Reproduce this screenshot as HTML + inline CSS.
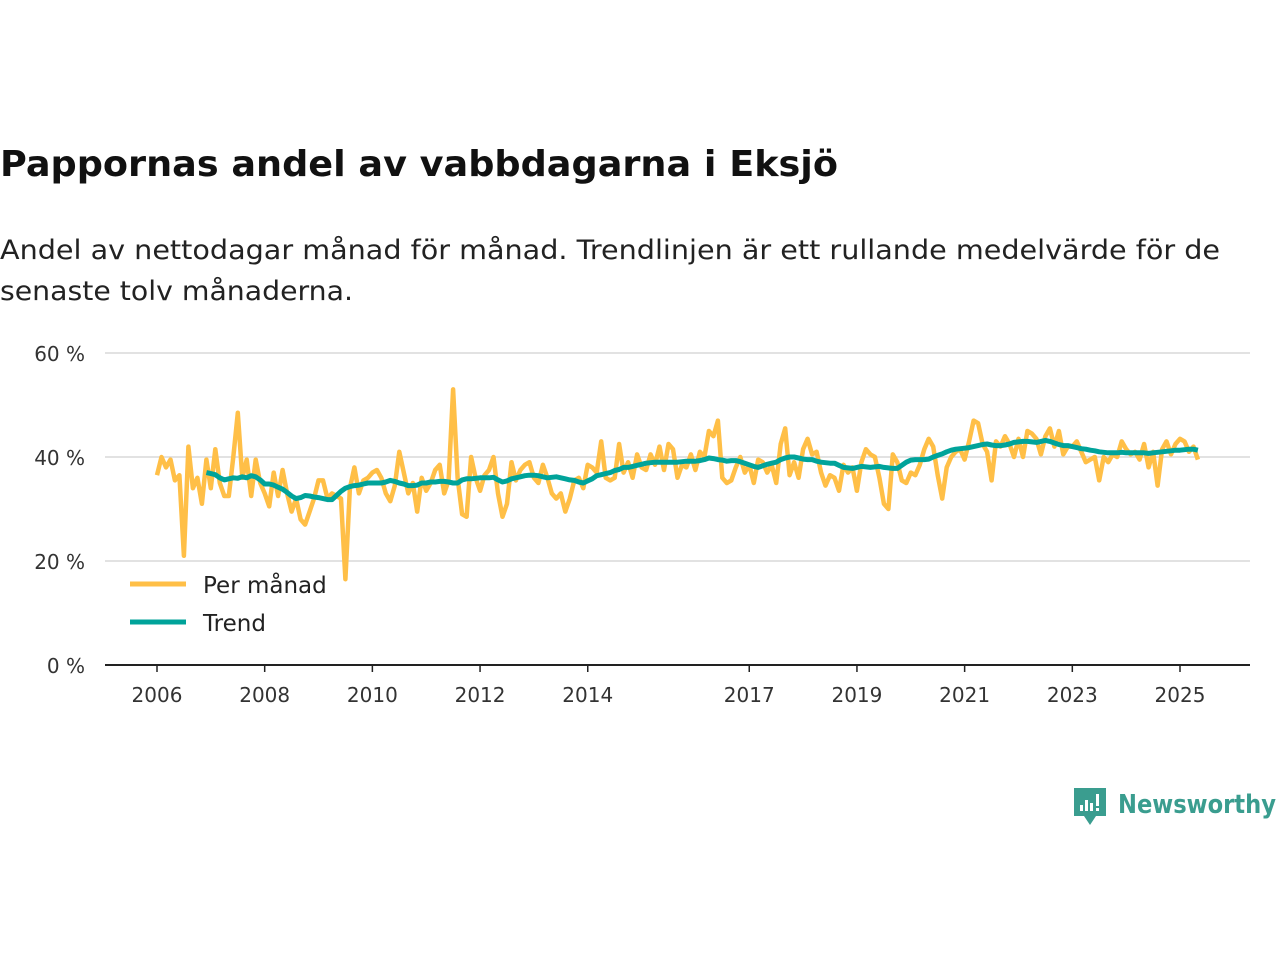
<!DOCTYPE html>
<html><head><meta charset="utf-8"><style>
body{margin:0;background:#fff;width:1280px;height:960px;overflow:hidden;font-family:"DejaVu Sans","Liberation Sans",sans-serif;}
</style></head><body>
<svg width="1280" height="960" font-family="DejaVu Sans, Liberation Sans, sans-serif">
<text x="0" y="176" font-size="36" font-weight="bold" fill="#111" textLength="838" lengthAdjust="spacingAndGlyphs">Pappornas andel av vabbdagarna i Eksjö</text>
<text x="0" y="259" font-size="27" fill="#222" textLength="1220" lengthAdjust="spacingAndGlyphs">Andel av nettodagar månad för månad. Trendlinjen är ett rullande medelvärde för de</text>
<text x="0" y="300" font-size="27" fill="#222" textLength="353" lengthAdjust="spacingAndGlyphs">senaste tolv månaderna.</text>
<g id="grid"></g>
<g id="xaxis"></g>
<g id="series"></g>
<g>
<line x1="130" y1="584" x2="186" y2="584" stroke="#ffbf47" stroke-width="5"/>
<text x="203" y="593" font-size="23" fill="#222">Per månad</text>
<line x1="130" y1="622" x2="186" y2="622" stroke="#00a39a" stroke-width="5"/>
<text x="203" y="631" font-size="23" fill="#222">Trend</text>
</g>
<g>
<path d="M1074 788 h32 v28 h-10 l-6 9 l-6 -9 h-10 z" fill="#3a9d8f"/>
<rect x="1080" y="805" width="3" height="6" fill="#fff"/><rect x="1085" y="800" width="3" height="11" fill="#fff"/><rect x="1090" y="803" width="3" height="8" fill="#fff"/><rect x="1096" y="794" width="3" height="12" fill="#fff"/><rect x="1096" y="808" width="3" height="3" fill="#fff"/>
<text x="1118" y="813" font-size="26" font-weight="bold" fill="#3a9d8f" textLength="158" lengthAdjust="spacingAndGlyphs">Newsworthy</text>
</g>
</svg>
<script>
const yTicks=[0,20,40,60];
const yTickLabels=["0 %","20 %","40 %","60 %"];
const xTickYears=[2006,2008,2010,2012,2014,2017,2019,2021,2023,2025];
const monthly=[
36.5,40,38,39.5,35.5,36.5,21,42,34,36,31,39.5,
34,41.5,35,32.5,32.5,40,48.5,36,39.5,32.5,39.5,35,
33,30.5,37,32.5,37.5,33,29.5,32,28,27,29.5,32,
35.5,35.5,32,33,32.5,32,16.5,34,38,33,35.5,36,
37,37.5,36,33,31.5,34.5,41,37,33,35,29.5,36,
33.5,35,37.5,38.5,33,35.5,53,36,29,28.5,40,36,
33.5,36.5,37.5,40,33,28.5,31,39,35.5,37.5,38.5,39,
36,35,38.5,36,33,32,33,29.5,32,35.5,36,34,
38.5,38,37,43,36,35.5,36,42.5,37,39,36,40.5,
38,37.5,40.5,38.5,42,37.5,42.5,41.5,36,38.5,38,40.5,
37.5,41,40,45,44,47,36,35,35.5,38,40,37,
38.5,35,39.5,39,37,38.5,35,42.5,45.5,36.5,39,36,
41.5,43.5,40.5,41,37,34.5,36.5,36,33.5,38.5,37,38,
33.5,39,41.5,40.5,40,36,31,30,40.5,39,35.5,35,
37,36.5,38.5,41.5,43.5,42,36.5,32,38,40,41,41.5,
39.5,43,47,46.5,42.5,41,35.5,43,42,44,42.5,40,
43.5,40,45,44.5,43.5,40.5,44,45.5,42,45,40.5,42,
42,43,41,39,39.5,40,35.5,40,39,40.5,40,43,
41.5,40.5,41,39.5,42.5,38,41,34.5,41.5,43,40.5,42.5,
43.5,43,41,42,39.5];
const trendStart=11;
const trend=[37,
36.8,36.6,36,35.6,35.8,36,35.9,36.2,36,36.4,36.2,35.6,
34.8,34.8,34.6,34.2,33.8,33.2,32.5,32,32.2,32.6,32.5,32.3,
32.2,32,31.8,31.8,32.6,33.4,34,34.3,34.5,34.6,34.8,35,
35,35,35,35.2,35.5,35.3,35,34.8,34.5,34.5,34.6,35,
35,35.2,35.2,35.3,35.3,35.2,35,35,35.6,35.8,35.8,35.9,
36,36,36,36.1,35.6,35.2,35.4,35.8,36,36.2,36.4,36.5,
36.5,36.4,36.2,36,36.1,36.2,36,35.8,35.6,35.5,35.2,35,
35.4,35.8,36.4,36.6,36.8,37,37.4,37.6,38,38,38.2,38.4,
38.6,38.8,38.9,39,39,39,39,39,39,39.1,39.2,39.2,
39.2,39.3,39.5,39.8,39.7,39.5,39.4,39.2,39.3,39.3,39.1,38.8,
38.5,38.2,38,38.3,38.6,38.8,39,39.5,39.8,40,40,39.8,
39.6,39.5,39.5,39.2,39,38.9,38.8,38.8,38.4,38,37.9,37.8,
38,38.2,38.1,38,38.1,38.2,38,37.9,37.8,37.8,38.4,39,
39.4,39.5,39.5,39.5,39.6,40,40.3,40.6,41,41.3,41.5,41.6,
41.7,41.8,42,42.2,42.4,42.5,42.3,42.2,42.2,42.3,42.5,42.8,
42.9,43,43,42.9,42.8,43,43.2,43,42.7,42.4,42.2,42.2,
42,41.8,41.6,41.5,41.3,41.2,41,40.9,40.8,40.8,40.8,40.9,
40.8,40.8,40.8,40.8,40.8,40.7,40.8,40.9,41,41.1,41.2,41.3,
41.3,41.4,41.5,41.5,41.3];
const NS="http://www.w3.org/2000/svg";
function X(i){return 157+i*(1180-157)/228;}
function Y(v){return 665-v*(665-353)/60;}
function mk(t,a,p){const e=document.createElementNS(NS,t);for(const k in a)e.setAttribute(k,a[k]);p.appendChild(e);return e;}
const grid=document.getElementById('grid');
yTicks.forEach((v,k)=>{
 const l=mk('line',{x1:105,x2:1250,y1:Y(v),y2:Y(v),stroke:v===0?'#222':'#d9d9d9','stroke-width':v===0?2:1.5},grid);
 
 
 const t=mk('text',{x:85,y:Y(v)+8,'font-size':20,fill:'#333','text-anchor':'end'},grid);
 t.textContent=yTickLabels[k];
 
 
});
const xa=document.getElementById('xaxis');
xTickYears.forEach(yr=>{
 const x=X((yr-2006)*12);
 const tk=mk('line',{x1:x,x2:x,y1:665,y2:672,stroke:'#222','stroke-width':1.5},xa);
 
 
 const t=mk('text',{x:x,y:702,'font-size':20,fill:'#333','text-anchor':'middle'},xa);
 t.textContent=yr;
 
 
});
const s=document.getElementById('series');
const p1=mk('path',{d:monthly.map((v,i)=>(i?'L':'M')+X(i).toFixed(1)+' '+Y(v).toFixed(1)).join(''),fill:'none',stroke:'#ffbf47','stroke-width':4.5,'stroke-linejoin':'round'},s);


const p2=mk('path',{d:trend.map((v,i)=>(i?'L':'M')+X(i+trendStart).toFixed(1)+' '+Y(v).toFixed(1)).join(''),fill:'none',stroke:'#00a39a','stroke-width':5,'stroke-linejoin':'round'},s);


</script>
</body></html>
